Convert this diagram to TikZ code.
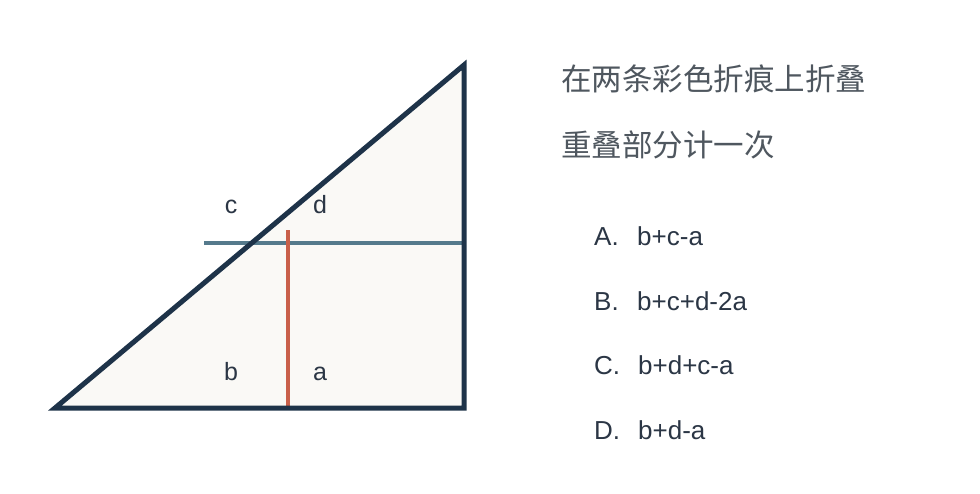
\documentclass[tikz,border=0pt]{standalone}
\usepackage{fontspec}
\setmainfont{Liberation Sans}
\newfontfamily\cjk{Noto Sans CJK SC}
\definecolor{navy}{HTML}{1E3349}
\definecolor{paper}{HTML}{FAF9F6}
\definecolor{creaseblue}{HTML}{557A8C}
\definecolor{creasered}{HTML}{C9604A}
\definecolor{cjkgray}{HTML}{4F575F}
\definecolor{txt}{HTML}{2B3645}
\begin{document}
\begin{tikzpicture}[x=1pt,y=-1pt,
  lbl/.style={font=\fontsize{25}{25}\selectfont, text=txt, inner sep=0pt, anchor=base},
  opt/.style={font=\fontsize{26}{26}\selectfont, text=txt, inner sep=0pt, anchor=base west},
  cjkline/.style={font=\cjk\fontsize{30.5}{30.5}\selectfont, text=cjkgray, inner sep=0pt, anchor=base west}]
\useasboundingbox[fill=white] (0,0) rectangle (980,493);
\coordinate (BL) at (55,408);
\coordinate (BR) at (464,408);
\coordinate (TR) at (464,65);
\fill[paper] (BL) -- (BR) -- (TR) -- cycle;
\coordinate (h1) at (204,243);
\coordinate (h2) at (464,243);
\coordinate (v1) at (288,230);
\coordinate (v2) at (288,408);
\draw[creaseblue, line width=3.5pt] (h1) -- (h2);
\draw[creasered, line width=3.5pt] (v1) -- (v2);
\draw[navy, line width=5pt, line join=miter] (BL) -- (BR) -- (TR) -- cycle;
\node[lbl] (lc) at (231,213) {c};
\node[lbl] (ld) at (320,213) {d};
\node[lbl] (lb) at (231,380) {b};
\node[lbl] (la) at (320,380) {a};
\node[cjkline] (t1) at (561,90) {在两条彩色折痕上折叠};
\node[cjkline] (t2) at (561,156) {重叠部分计一次};
\node[opt] (oa) at (594,245) {A.};
\node[opt] (ea) at (637,245) {b+c-a};
\node[opt] (ob) at (594,310) {B.};
\node[opt] (eb) at (637,310) {b+c+d-2a};
\node[opt] (oc) at (594,374) {C.};
\node[opt] (ec) at (638,374) {b+d+c-a};
\node[opt] (od) at (594,439) {D.};
\node[opt] (ed) at (638,439) {b+d-a};
\end{tikzpicture}
\end{document}
